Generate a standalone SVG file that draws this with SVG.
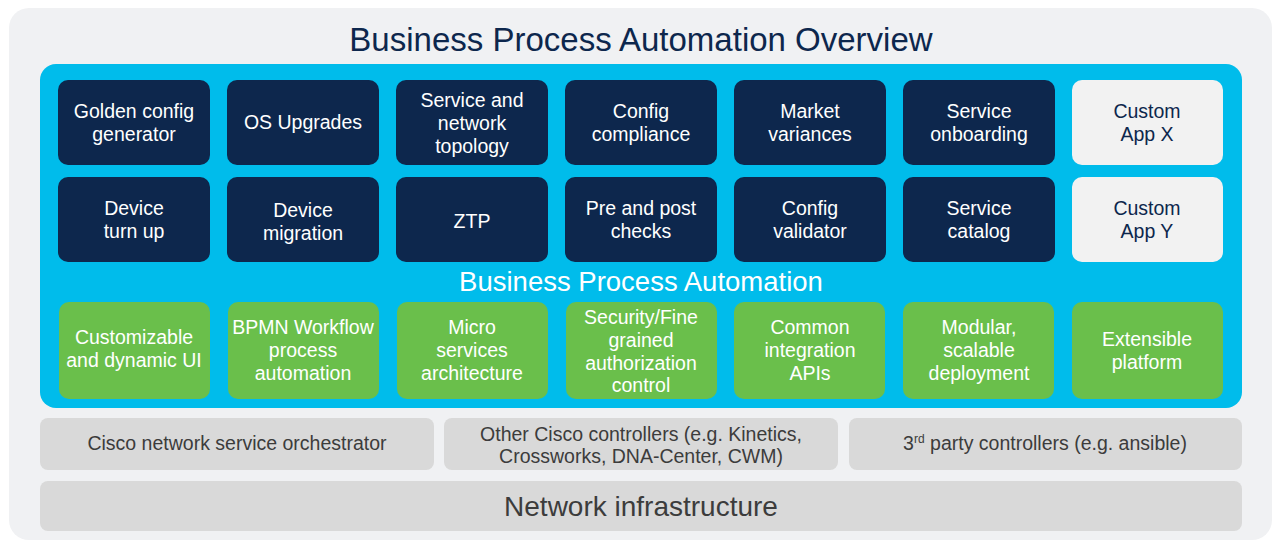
<svg xmlns="http://www.w3.org/2000/svg" width="1276" height="542" viewBox="0 0 1276 542">
  <style>
    text { font-family: "Liberation Sans", Arial, sans-serif; text-anchor: middle; }
    .title { font-size: 33px; fill: #0d274d; }
    .band { font-size: 27.5px; fill: #ffffff; }
    .app { fill: #0d274d; }
    .custom { fill: #f2f2f2; }
    .feat { fill: #6abf4b; }
    .ctrl { fill: #d9d9d9; }
    .lbl { font-size: 19.5px; }
    .w { fill: #ffffff; }
    .n { fill: #0d274d; }
    .g { fill: #3c3c3c; }
  </style>

  <!-- canvas -->
  <rect x="9" y="8" width="1263" height="532" rx="20" fill="#f0f1f3"/>
  <text class="title" x="641" y="51">Business Process Automation Overview</text>

  <!-- automation platform panel -->
  <g id="platform">
    <rect x="40" y="64" width="1202" height="344" rx="16" fill="#00bceb"/>
    <text class="band" x="641" y="291">Business Process Automation</text>
  </g>

  <!-- application row 1 -->
  <g id="golden-config">
    <rect class="app" x="58" y="80" width="152" height="85" rx="10"/>
    <text class="lbl w" x="134" y="118">Golden config</text>
    <text class="lbl w" x="134" y="141">generator</text>
  </g>
  <g id="os-upgrades">
    <rect class="app" x="227" y="80" width="152" height="85" rx="10"/>
    <text class="lbl w" x="303" y="129">OS Upgrades</text>
  </g>
  <g id="topology">
    <rect class="app" x="396" y="80" width="152" height="85" rx="10"/>
    <text class="lbl w" x="472" y="107">Service and</text>
    <text class="lbl w" x="472" y="130">network</text>
    <text class="lbl w" x="472" y="153">topology</text>
  </g>
  <g id="config-compliance">
    <rect class="app" x="565" y="80" width="152" height="85" rx="10"/>
    <text class="lbl w" x="641" y="118">Config</text>
    <text class="lbl w" x="641" y="141">compliance</text>
  </g>
  <g id="market-variances">
    <rect class="app" x="734" y="80" width="152" height="85" rx="10"/>
    <text class="lbl w" x="810" y="118">Market</text>
    <text class="lbl w" x="810" y="141">variances</text>
  </g>
  <g id="service-onboarding">
    <rect class="app" x="903" y="80" width="152" height="85" rx="10"/>
    <text class="lbl w" x="979" y="118">Service</text>
    <text class="lbl w" x="979" y="141">onboarding</text>
  </g>
  <g id="custom-app-x">
    <rect class="custom" x="1072" y="80" width="151" height="85" rx="10"/>
    <text class="lbl n" x="1147" y="118">Custom</text>
    <text class="lbl n" x="1147" y="141">App X</text>
  </g>

  <!-- application row 2 -->
  <g id="device-turn-up">
    <rect class="app" x="58" y="177" width="152" height="85" rx="10"/>
    <text class="lbl w" x="134" y="215">Device</text>
    <text class="lbl w" x="134" y="238">turn up</text>
  </g>
  <g id="device-migration">
    <rect class="app" x="227" y="177" width="152" height="85" rx="10"/>
    <text class="lbl w" x="303" y="217">Device</text>
    <text class="lbl w" x="303" y="240">migration</text>
  </g>
  <g id="ztp">
    <rect class="app" x="396" y="177" width="152" height="85" rx="10"/>
    <text class="lbl w" x="472" y="228">ZTP</text>
  </g>
  <g id="pre-post-checks">
    <rect class="app" x="565" y="177" width="152" height="85" rx="10"/>
    <text class="lbl w" x="641" y="215">Pre and post</text>
    <text class="lbl w" x="641" y="238">checks</text>
  </g>
  <g id="config-validator">
    <rect class="app" x="734" y="177" width="152" height="85" rx="10"/>
    <text class="lbl w" x="810" y="215">Config</text>
    <text class="lbl w" x="810" y="238">validator</text>
  </g>
  <g id="service-catalog">
    <rect class="app" x="903" y="177" width="152" height="85" rx="10"/>
    <text class="lbl w" x="979" y="215">Service</text>
    <text class="lbl w" x="979" y="238">catalog</text>
  </g>
  <g id="custom-app-y">
    <rect class="custom" x="1072" y="177" width="151" height="85" rx="10"/>
    <text class="lbl n" x="1147" y="215">Custom</text>
    <text class="lbl n" x="1147" y="238">App Y</text>
  </g>

  <!-- platform capabilities -->
  <g id="dynamic-ui">
    <rect class="feat" x="59" y="302" width="151" height="97" rx="10"/>
    <text class="lbl w" x="134" y="344">Customizable</text>
    <text class="lbl w" x="134" y="367">and dynamic UI</text>
  </g>
  <g id="bpmn-workflow">
    <rect class="feat" x="228" y="302" width="151" height="97" rx="10"/>
    <text class="lbl w" x="303" y="334">BPMN Workflow</text>
    <text class="lbl w" x="303" y="357">process</text>
    <text class="lbl w" x="303" y="380">automation</text>
  </g>
  <g id="microservices">
    <rect class="feat" x="397" y="302" width="151" height="97" rx="10"/>
    <text class="lbl w" x="472" y="334">Micro</text>
    <text class="lbl w" x="472" y="357">services</text>
    <text class="lbl w" x="472" y="380">architecture</text>
  </g>
  <g id="security">
    <rect class="feat" x="566" y="302" width="151" height="97" rx="10"/>
    <text class="lbl w" x="641" y="324">Security/Fine</text>
    <text class="lbl w" x="641" y="347">grained</text>
    <text class="lbl w" x="641" y="370">authorization</text>
    <text class="lbl w" x="641" y="392">control</text>
  </g>
  <g id="integration-apis">
    <rect class="feat" x="734" y="302" width="151" height="97" rx="10"/>
    <text class="lbl w" x="810" y="334">Common</text>
    <text class="lbl w" x="810" y="357">integration</text>
    <text class="lbl w" x="810" y="380">APIs</text>
  </g>
  <g id="scalable-deployment">
    <rect class="feat" x="903" y="302" width="151" height="97" rx="10"/>
    <text class="lbl w" x="979" y="334">Modular,</text>
    <text class="lbl w" x="979" y="357">scalable</text>
    <text class="lbl w" x="979" y="380">deployment</text>
  </g>
  <g id="extensible-platform">
    <rect class="feat" x="1072" y="302" width="151" height="97" rx="10"/>
    <text class="lbl w" x="1147" y="346">Extensible</text>
    <text class="lbl w" x="1147" y="369">platform</text>
  </g>

  <!-- controllers -->
  <g id="nso">
    <rect class="ctrl" x="40" y="418" width="394" height="52" rx="8"/>
    <text class="lbl g" x="237" y="450">Cisco network service orchestrator</text>
  </g>
  <g id="cisco-controllers">
    <rect class="ctrl" x="444" y="418" width="394" height="52" rx="8"/>
    <text class="lbl g" x="641" y="441">Other Cisco controllers (e.g. Kinetics,</text>
    <text class="lbl g" x="641" y="463">Crossworks, DNA-Center, CWM)</text>
  </g>
  <g id="third-party">
    <rect class="ctrl" x="849" y="418" width="393" height="52" rx="8"/>
    <text class="lbl g" x="1045" y="450">3<tspan font-size="12" dy="-7">rd</tspan><tspan dy="7"> party controllers (e.g. ansible)</tspan></text>
  </g>

  <!-- infrastructure -->
  <g id="network-infrastructure">
    <rect class="ctrl" x="40" y="481" width="1202" height="50" rx="8"/>
    <text x="641" y="516" font-size="28" fill="#3c3c3c">Network infrastructure</text>
  </g>
</svg>
